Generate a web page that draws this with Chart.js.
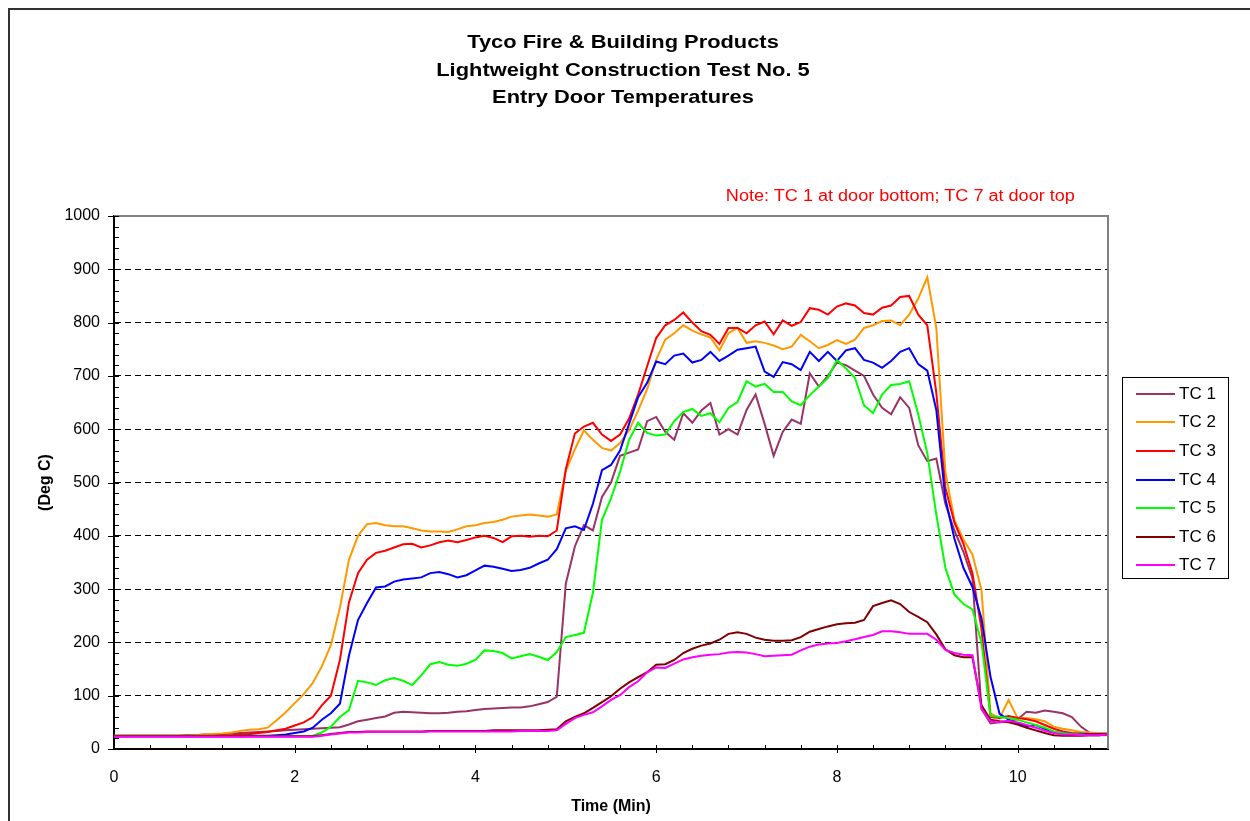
<!DOCTYPE html>
<html>
<head>
<meta charset="utf-8">
<title>Entry Door Temperatures</title>
<script src="https://cdn.jsdelivr.net/npm/chart.js@4.4.1/dist/chart.umd.min.js"></script>
<style>
    body { margin: 0; background: #fff; font-family: "Liberation Sans", Arial, sans-serif; }
    #wrap { position: relative; width: 1250px; height: 821px; overflow: hidden; }
    #frame { position: absolute; left: 8px; top: 8px; width: 1400px; height: 1000px; border-left: 2px solid #333; border-top: 2px solid #333; }
    #title { position: absolute; left: 323px; top: 28px; width: 600px; text-align: center; font-weight: bold; font-size: 19px; line-height: 27.5px; transform: scaleX(1.15); transform-origin: center top; }
    #note { position: absolute; right: 175px; top: 186px; color: #ff0000; font-size: 16px; line-height: 20px; white-space: nowrap; transform: scaleX(1.13); transform-origin: right top; }
    #legend { position: absolute; left: 1122px; top: 377px; width: 105px; height: 200px; border: 1px solid #000; background: #fff; }
    #legend .row { position: absolute; left: 0; height: 20px; line-height: 20px; font-size: 17px; white-space: nowrap; }
    #legend .swatch { position: absolute; left: 13px; top: 9px; width: 39px; height: 2px; }
    #legend .label { position: absolute; left: 56px; top: 0; }
</style>
</head>
<body>
<div id="wrap">
    <canvas id="tempChart" width="1250" height="821"></canvas>
    <div id="frame"></div>
    <div id="title">Tyco Fire &amp; Building Products<br>Lightweight Construction Test No. 5<br>Entry Door Temperatures</div>
    <div id="note">Note: TC 1 at door bottom; TC 7 at door top</div>
    <div id="legend"></div>
</div>
<script>
// Tiempo (min)
const time = [
    0.0, 0.1, 0.2, 0.3, 0.4, 0.5, 0.6, 0.7, 0.8, 0.9, 1.0,
    1.1, 1.2, 1.3, 1.4, 1.5, 1.6, 1.7, 1.8, 1.9, 2.0,
    2.1, 2.2, 2.3, 2.4, 2.5, 2.6, 2.7, 2.8, 2.9, 3.0,
    3.1, 3.2, 3.3, 3.4, 3.5, 3.6, 3.7, 3.8, 3.9, 4.0,
    4.1, 4.2, 4.3, 4.4, 4.5, 4.6, 4.7, 4.8, 4.9, 5.0,
    5.1, 5.2, 5.3, 5.4, 5.5, 5.6, 5.7, 5.8, 5.9, 6.0,
    6.1, 6.2, 6.3, 6.4, 6.5, 6.6, 6.7, 6.8, 6.9, 7.0,
    7.1, 7.2, 7.3, 7.4, 7.5, 7.6, 7.7, 7.8, 7.9, 8.0,
    8.1, 8.2, 8.3, 8.4, 8.5, 8.6, 8.7, 8.8, 8.9, 9.0,
    9.1, 9.2, 9.3, 9.4, 9.5, 9.6, 9.7, 9.8, 9.9, 10.0,
    10.1, 10.2, 10.3, 10.4, 10.5, 10.6, 10.7, 10.8, 10.9, 11.0
];

// Temperaturas (Deg C)
const tc1 = [
    25, 25, 25, 25, 25, 25, 25, 25, 26, 26, 27,
    27, 28, 29, 30, 31, 32, 33, 34, 35, 36,
    37, 38, 39, 40, 41, 46, 52, 55, 58, 61,
    68, 70, 69, 68, 67, 67, 68, 70, 71, 73,
    75, 76, 77, 78, 78, 80, 84, 88, 98, 310,
    380, 420, 410, 473, 500, 550, 556, 562, 615, 623,
    595, 580, 630, 612, 635, 649, 590, 600, 590, 636,
    665, 610, 550, 595, 618, 610, 705, 680, 700, 725,
    720, 710, 700, 665, 640, 628, 660, 640, 570, 540,
    545, 460, 410, 370, 320, 75, 48, 50, 52, 56,
    70, 68, 72, 70, 67, 60, 42, 30, 28, 28
];
const tc2 = [
    25, 25, 25, 25, 25, 25, 25, 25, 25, 26, 27,
    28, 29, 31, 34, 36, 37, 40, 54, 69, 86,
    103, 124, 155, 195, 265, 355, 400, 422, 424, 420,
    418, 418, 414, 410, 408, 408, 407, 412, 418, 420,
    424, 426, 430, 436, 438, 440, 438, 436, 440, 522,
    562, 598, 580, 565, 560, 574, 598, 635, 675, 730,
    768, 780, 795, 785, 778, 772, 748, 780, 790, 762,
    765, 762, 757, 750, 755, 777, 765, 752, 758, 767,
    760, 768, 790, 795, 803, 804, 795, 815, 845, 885,
    790, 520, 430, 393, 365, 298, 67, 58, 92, 58,
    58, 56, 52, 42, 38, 35, 32, 31, 30, 30
];
const tc3 = [
    25, 25, 25, 25, 25, 25, 25, 25, 25, 25, 25,
    25, 26, 26, 27, 28, 30, 32, 35, 38, 44,
    50, 60, 82, 100, 167, 275, 330, 355, 368, 372,
    378, 384, 385, 378, 382, 388, 391, 388, 392, 397,
    400, 396, 388, 399, 400, 398, 400, 399, 410, 525,
    592, 605, 612, 590, 578, 590, 620, 665, 718, 771,
    795, 805, 819, 800, 784, 777, 760, 790, 790, 780,
    795, 802, 778, 804, 794, 801, 827, 824, 815, 830,
    836, 832, 818, 815, 828, 832, 848, 850, 815, 795,
    668, 490, 425, 385, 330, 225, 60, 58, 62, 58,
    56, 52, 45, 38, 33, 30, 29, 28, 28, 28
];
const tc4 = [
    24, 24, 24, 24, 24, 24, 24, 24, 24, 24, 24,
    24, 24, 24, 24, 25, 25, 25, 26, 27, 30,
    33, 40, 55, 67, 85, 175, 242, 274, 303, 305,
    314, 318, 320, 322, 330, 332, 328, 322, 326, 335,
    344, 342, 338, 334, 336, 340, 348, 355, 375, 414,
    418, 411, 460, 523, 533, 560, 610, 660, 687, 727,
    722, 738, 742, 725, 730, 745, 728, 738, 749, 752,
    755, 708, 698, 726, 722, 711, 745, 728, 745, 728,
    748, 752, 730, 725, 715, 728, 745, 752, 722, 710,
    636, 470, 395, 340, 304, 245, 135, 66, 55, 48,
    42, 45, 38, 32, 30, 28, 28, 27, 27, 27
];
const tc5 = [
    24, 24, 24, 24, 24, 24, 24, 24, 24, 24, 24,
    24, 24, 24, 24, 24, 24, 24, 24, 24, 24,
    24, 25, 31, 42, 60, 73, 128, 125, 120, 129,
    133, 128, 120, 138, 159, 163, 158, 156, 160, 167,
    185, 184, 180, 170, 174, 178, 173, 167, 182, 210,
    214, 218, 293, 430, 470, 520, 580, 612, 593, 588,
    590, 615, 632, 638, 625, 630, 613, 640, 651, 690,
    680, 685, 670, 670, 652, 645, 664, 680, 696, 730,
    714, 696, 645, 630, 665, 683, 685, 690, 628, 555,
    440, 340, 290, 272, 262, 200, 62, 60, 58, 55,
    50, 45, 40, 33, 30, 28, 27, 26, 26, 26
];
const tc6 = [
    24, 24, 24, 24, 24, 24, 24, 24, 24, 24, 24,
    24, 24, 24, 24, 24, 24, 24, 24, 24, 24,
    24, 24, 26, 28, 30, 32, 32, 33, 33, 33,
    33, 33, 33, 33, 34, 34, 34, 34, 34, 34,
    34, 35, 35, 35, 35, 35, 35, 36, 37, 52,
    60, 67, 77, 88, 99, 113, 125, 135, 144, 158,
    159, 167, 180, 188, 194, 198, 205, 216, 219, 216,
    209, 205, 203, 203, 204, 210, 220, 225, 230, 234,
    236, 237, 242, 268, 274, 279, 272, 257, 248, 238,
    215, 187, 176, 172, 172, 82, 55, 52, 50, 46,
    40, 35, 30, 26, 25, 25, 25, 26, 26, 27
];
const tc7 = [
    23, 23, 23, 23, 23, 23, 23, 23, 23, 23, 23,
    23, 23, 23, 23, 23, 23, 23, 23, 23, 23,
    23, 23, 25, 27, 29, 31, 31, 32, 32, 32,
    32, 32, 32, 32, 33, 33, 33, 33, 33, 33,
    33, 33, 33, 33, 34, 34, 34, 34, 35, 47,
    58, 64, 69, 80, 92, 101, 116, 127, 144, 153,
    152, 160, 168, 172, 175, 177, 178, 181, 182, 181,
    178, 174, 175, 176, 177, 185, 192, 196, 198, 199,
    202, 206, 210, 214, 221, 221, 219, 216, 216, 216,
    205, 186, 180, 177, 176, 75, 52, 50, 53, 50,
    45, 40, 34, 30, 27, 27, 26, 26, 26, 27
];

const seriesNames = ['TC 1', 'TC 2', 'TC 3', 'TC 4', 'TC 5', 'TC 6', 'TC 7'];
const seriesValues = [tc1, tc2, tc3, tc4, tc5, tc6, tc7];
const seriesColors = ['#993366', '#ff9900', '#ff0000', '#0000ff', '#00ff00', '#800000', '#ff00ff'];

// marcas menores de los ejes y borde gris del area
const axisMarks = {
    id: 'axisMarks',
    afterDraw(chart) {
        const { ctx, chartArea: a, scales: { x, y } } = chart;
        ctx.save();
        ctx.strokeStyle = '#808080';
        ctx.lineWidth = 2;
        ctx.beginPath();
        ctx.moveTo(a.left, a.top);
        ctx.lineTo(a.right, a.top);
        ctx.lineTo(a.right, a.bottom);
        ctx.stroke();

        ctx.strokeStyle = '#000';
        ctx.lineWidth = 1;
        ctx.beginPath();
        for (let v = 0; v <= 1000; v += 20) {
            const py = Math.round(y.getPixelForValue(v)) + 0.5;
            const major = v % 100 === 0;
            ctx.moveTo(a.left - (major ? 6 : 0), py);
            ctx.lineTo(a.left + 5, py);
        }
        for (let i = 1; i <= 27; i++) {
            const px = Math.round(x.getPixelForValue(i * 0.4)) + 0.5;
            const major = i % 5 === 0;
            ctx.moveTo(px, a.bottom - 4);
            ctx.lineTo(px, a.bottom + (major ? 4 : 0));
        }
        ctx.stroke();
        ctx.restore();
    }
};

document.addEventListener("DOMContentLoaded", function () {
    const ctx = document.getElementById('tempChart').getContext('2d');
    const font = "'Liberation Sans', Arial, sans-serif";

    new Chart(ctx, {
        type: 'line',
        data: {
            datasets: seriesNames.map((name, k) => ({
                label: name,
                data: time.map((t, i) => ({ x: t, y: seriesValues[k][i] })),
                borderColor: seriesColors[k],
                backgroundColor: seriesColors[k],
                borderWidth: 2,
                pointRadius: 0,
                tension: 0,
                fill: false,
                order: seriesNames.length - k,
            })),
        },
        options: {
            responsive: false,
            animation: false,
            devicePixelRatio: 1,
            layout: { padding: { left: 0, right: 142, top: 216, bottom: 0 } },
            plugins: {
                legend: { display: false },
                title: { display: false },
                tooltip: { enabled: false },
            },
            scales: {
                x: {
                    type: 'linear',
                    min: 0,
                    max: 11,
                    afterFit: (scale) => { scale.height = 72; },
                    ticks: {
                        stepSize: 2,
                        includeBounds: false,
                        padding: 19,
                        color: '#000',
                        font: { family: font, size: 16 },
                        callback: (v) => String(v),
                    },
                    grid: { display: false, drawTicks: false },
                    border: { color: '#000', width: 2 },
                    title: {
                        display: true,
                        text: 'Time (Min)',
                        color: '#000',
                        font: { family: font, size: 16, weight: 'bold' },
                        padding: { top: 0, bottom: 5 },
                    },
                },
                y: {
                    min: 0,
                    max: 1000,
                    afterFit: (scale) => { scale.width = 114; },
                    ticks: {
                        stepSize: 100,
                        padding: 14,
                        color: '#000',
                        font: { family: font, size: 16 },
                        callback: (v) => String(v),
                    },
                    grid: {
                        drawTicks: false,
                        lineWidth: 1,
                        color: (c) => (c.tick && (c.tick.value === 0 || c.tick.value === 1000)) ? 'rgba(0,0,0,0)' : '#000',
                    },
                    border: { color: '#000', width: 2, dash: [6, 4] },
                    title: {
                        display: true,
                        text: '(Deg C)',
                        color: '#000',
                        font: { family: font, size: 16, weight: 'bold' },
                        padding: { top: 36, bottom: 0 },
                    },
                },
            },
        },
        plugins: [axisMarks],
    });

    // Leyenda
    const legend = document.getElementById('legend');
    seriesNames.forEach((name, k) => {
        const row = document.createElement('div');
        row.className = 'row';
        row.style.top = (5.7 + 28.6 * k) + 'px';
        row.style.width = '105px';
        row.innerHTML = '<span class="swatch" style="background:' + seriesColors[k] + '"></span><span class="label">' + name + '</span>';
        legend.appendChild(row);
    });
});
</script>
</body>
</html>
